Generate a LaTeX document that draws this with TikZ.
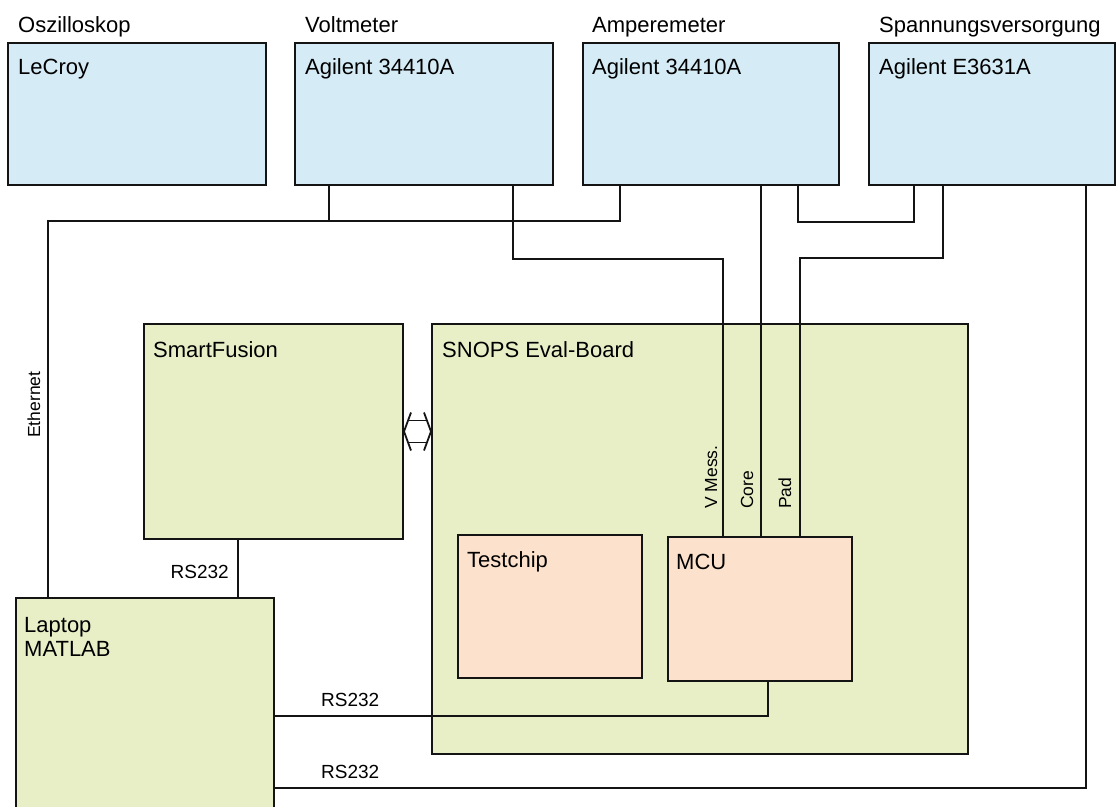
\documentclass[tikz,border=0pt]{standalone}
\usepackage{fontspec}
\setmainfont{Liberation Sans}
\definecolor{boxblue}{RGB}{213,235,245}
\definecolor{boxgreen}{RGB}{232,239,199}
\definecolor{boxpeach}{RGB}{252,226,204}
\definecolor{ink}{RGB}{20,20,20}
\begin{document}
\begin{tikzpicture}[x=1pt,y=-1pt,
  box/.style={draw=ink, line width=2pt, anchor=north west, inner sep=0pt},
  wire/.style={draw=ink, line width=2pt},
  ttl/.style={inner sep=0pt, font=\fontsize{22}{26}\selectfont, anchor=base west},
  lbl/.style={inner sep=0pt, font=\fontsize{19}{22}\selectfont},
  vlbl/.style={inner sep=0pt, font=\fontsize{17.5}{20}\selectfont, rotate=90, anchor=base west}]
\clip (0,0) rectangle (1116,806);
\fill[white] (0,0) rectangle (1116,806);
% top instruments
\node[box, fill=boxblue, minimum width=258pt, minimum height=142pt] (osc) at (7,42) {};
\node[box, fill=boxblue, minimum width=258pt, minimum height=142pt] (volt) at (294,42) {};
\node[box, fill=boxblue, minimum width=256pt, minimum height=142pt] (amp) at (582,42) {};
\node[box, fill=boxblue, minimum width=246pt, minimum height=142pt] (psu) at (868,42) {};
% boards
\node[box, fill=boxgreen, minimum width=259pt, minimum height=215pt] (sf) at (143,323) {};
\node[box, fill=boxgreen, minimum width=536pt, minimum height=430pt] (snops) at (431,323) {};
\node[box, fill=boxpeach, minimum width=184pt, minimum height=143pt] (test) at (457,534) {};
\node[box, fill=boxpeach, minimum width=184pt, minimum height=144pt] (mcu) at (667,536) {};
\node[box, fill=boxgreen, minimum width=258pt, minimum height=240pt] (laptop) at (15,597) {};
% titles
\node[ttl] (oscT) at ([xshift=11,yshift=10]osc.north west) {Oszilloskop};
\node[ttl] (voltT) at ([xshift=11,yshift=10]volt.north west) {Voltmeter};
\node[ttl] (ampT) at ([xshift=10,yshift=10]amp.north west) {Amperemeter};
\node[ttl] (psuT) at ([xshift=11,yshift=10]psu.north west) {Spannungsversorgung};
% box texts
\node[ttl] (oscN) at ([xshift=11,yshift=-32]osc.north west) {LeCroy};
\node[ttl] (voltN) at ([xshift=11,yshift=-32]volt.north west) {Agilent 34410A};
\node[ttl] (ampN) at ([xshift=10,yshift=-32]amp.north west) {Agilent 34410A};
\node[ttl] (psuN) at ([xshift=11,yshift=-32]psu.north west) {Agilent E3631A};
\node[ttl] (sfN) at ([xshift=10,yshift=-34]sf.north west) {SmartFusion};
\node[ttl] (snN) at ([xshift=11,yshift=-34]snops.north west) {SNOPS Eval-Board};
\node[ttl] (testN) at ([xshift=10,yshift=-33]test.north west) {Testchip};
\node[ttl] (mcuN) at ([xshift=9,yshift=-33]mcu.north west) {MCU};
\node[ttl] (lapN1) at ([xshift=9,yshift=-35]laptop.north west) {Laptop};
\node[ttl] (lapN2) at ([xshift=9,yshift=-59]laptop.north west) {MATLAB};
% Ethernet
\draw[wire] ([xshift=33]laptop.north west) |- ([xshift=38,yshift=-35]amp.south west) -- ([xshift=38]amp.south west);
\draw[wire] ([xshift=35]volt.south west) -- ++(0,35);
\node[vlbl] (ethL) at (40,438) {Ethernet};
% V Mess
\draw[wire] ([xshift=219]volt.south west) -- ++(0,73) -| ([xshift=56]mcu.north west);
% Core
\draw[wire] ([xshift=179]amp.south west) -- ([xshift=94]mcu.north west);
% amp to psu
\draw[wire] ([xshift=216]amp.south west) -- ++(0,36) -| ([xshift=46]psu.south west);
% Pad
\draw[wire] ([xshift=75]psu.south west) -- ++(0,72) -| ([xshift=133]mcu.north west);
\node[vlbl] (vmL) at (717,509) {V Mess.};
\node[vlbl] (coreL) at (753,509) {Core};
\node[vlbl] (padL) at (791,509) {Pad};
% RS232 links
\draw[wire] ([xshift=95]sf.south west) -- ([xshift=223]laptop.north west);
\node[lbl, anchor=base east] (rs1) at (229,578) {RS232};
\draw[wire] ([xshift=101]mcu.south west) |- ([yshift=-119]laptop.north east);
\node[lbl, anchor=base west] (rs2) at (321,706) {RS232};
\draw[wire] ([xshift=218]psu.south west) |- ([yshift=-191]laptop.north east);
\node[lbl, anchor=base west] (rs3) at (321,778) {RS232};
% double arrow between SmartFusion and SNOPS board
\coordinate (dl) at (sf.east);
\coordinate (dr) at (sf.east -| snops.west);
\draw[ink, line width=1.8pt] ([xshift=7,yshift=19]dl) -- (dl) -- ([xshift=7,yshift=-19]dl);
\draw[ink, line width=1.8pt] ([xshift=-7,yshift=19]dr) -- (dr) -- ([xshift=-7,yshift=-19]dr);
\draw[ink, line width=1.8pt] ([xshift=4.1,yshift=11]dl) -- ([xshift=-4.1,yshift=11]dr);
\draw[ink, line width=1.8pt] ([xshift=4.1,yshift=-11]dl) -- ([xshift=-4.1,yshift=-11]dr);
\end{tikzpicture}
\end{document}
